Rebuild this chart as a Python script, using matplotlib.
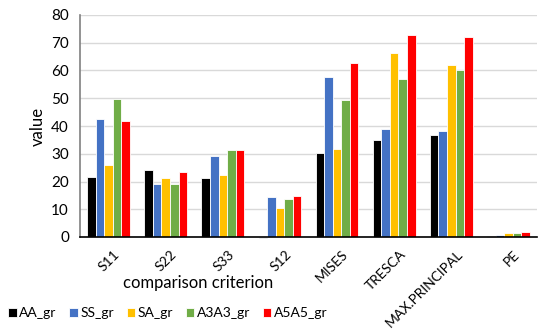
import numpy as np
import matplotlib
matplotlib.use("Agg")
from matplotlib import pyplot as plt
from matplotlib import transforms

plt.rcParams['font.family'] = ['Lato', 'DejaVu Sans']

criteria = ['S11', 'S22', 'S33', 'S12', 'MISES', 'TRESCA', 'MAX.PRINCIPAL', 'PE']
series = ['AA_gr', 'SS_gr', 'SA_gr', 'A3A3_gr', 'A5A5_gr']
aa_gr = [21.7, 24.0, 21.2, -0.4, 30.3, 35.0, 36.6, 0.5]
ss_gr = [42.6, 19.1, 29.1, 14.5, 57.5, 38.8, 38.2, 0.9]
sa_gr = [26.0, 21.2, 22.5, 10.3, 31.7, 66.3, 62.0, 1.6]
a3a3_gr = [49.8, 19.0, 31.4, 13.8, 49.4, 57.0, 60.1, 1.5]
a5a5_gr = [41.9, 23.3, 31.3, 14.6, 62.7, 72.8, 72.0, 1.7]
colors = ['black', '#4472C4', '#FFC000', '#70AD47', '#FF0000']

fig = plt.figure(figsize=(5.5, 3.31), dpi=100)
ax = fig.add_axes([80/550, 1-237/331, 457/550, 222/331])

x = np.arange(len(criteria))
w = 0.15
for i, vals in enumerate([aa_gr, ss_gr, sa_gr, a3a3_gr, a5a5_gr]):
    ax.bar(x + (i-2)*w, vals, w, color=colors[i], edgecolor='white', linewidth=0.6,
           label=series[i], zorder=3, clip_on=False)

ax.set_xlim(-0.5, len(criteria)-0.5)
ax.set_ylim(0, 80)
ax.set_yticks(range(0, 81, 10))
ax.grid(axis='y', color='#d9d9d9', linewidth=1, zorder=0)
ax.tick_params(axis='y', length=0, labelsize=11, pad=8)
ax.tick_params(axis='x', length=0, labelsize=10, pad=8)
ax.set_xticks(x)
ax.set_xticklabels(criteria, rotation=45, ha='right', rotation_mode='anchor')
shift = transforms.ScaledTranslation(5/100, 0, fig.dpi_scale_trans)
for lab in ax.get_xticklabels():
    lab.set_transform(lab.get_transform() + shift)
for s in ['top', 'right']:
    ax.spines[s].set_visible(False)
ax.spines['left'].set_color('#808080')
ax.spines['left'].set_linewidth(1.2)
ax.spines['bottom'].set_color('black')
ax.spines['bottom'].set_linewidth(1.2)
ax.spines['bottom'].set_zorder(4)

ax.set_ylabel('value', fontsize=12)
fig.text(198/550, 1-283/331, 'comparison criterion', fontsize=12, ha='center', va='center')

fig.legend(loc='center left', bbox_to_anchor=(0.005, 1-313/331), ncol=5, frameon=False,
           fontsize=10, handlelength=0.6, handleheight=0.6, handletextpad=0.2,
           columnspacing=0.9, borderaxespad=0)

fig.savefig('out.png', dpi=100)
